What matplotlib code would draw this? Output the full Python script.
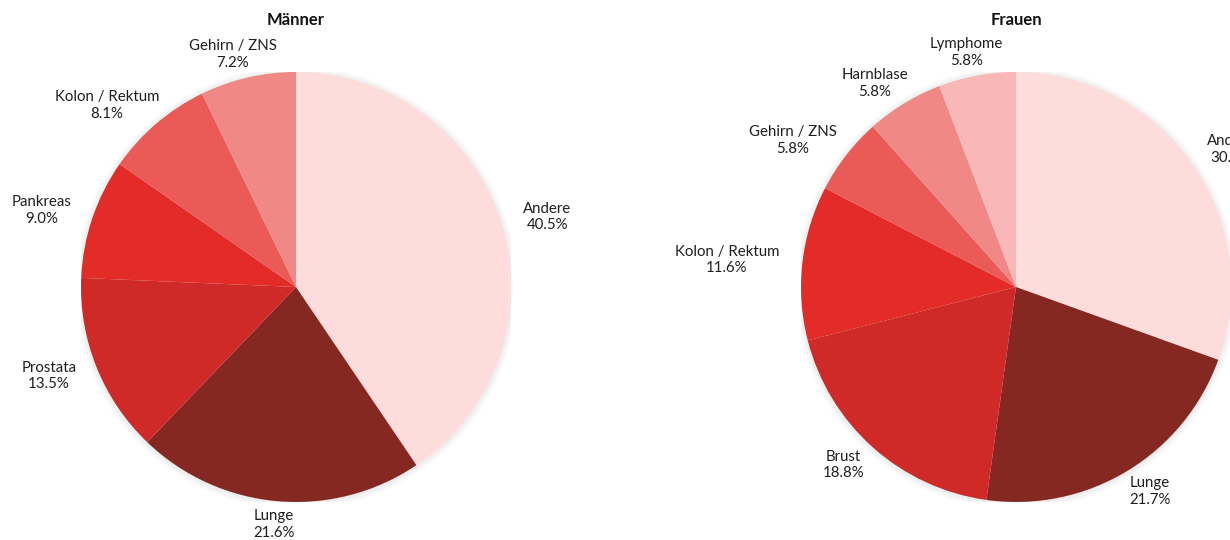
import numpy as np
import matplotlib
matplotlib.use("Agg")
import matplotlib.pyplot as plt
from matplotlib.patches import Circle

plt.rcParams['font.family'] = ['Lato', 'DejaVu Sans']

# Krebstodesursachen nach Geschlecht (Anteile in %)
men_labels = ["Andere", "Lunge", "Prostata", "Pankreas", "Kolon / Rektum", "Gehirn / ZNS"]
men_values = [40.5, 21.6, 13.5, 9.0, 8.1, 7.2]
men_colors = ["#fddcdc", "#862822", "#cf2a27", "#e32b28", "#ea5a56", "#f08886"]

women_labels = ["Andere", "Lunge", "Brust", "Kolon / Rektum", "Gehirn / ZNS", "Harnblase", "Lymphome"]
women_values = [30.5, 21.7, 18.8, 11.6, 5.8, 5.8, 5.8]
women_colors = ["#fddcdc", "#862822", "#cf2a27", "#e32b28", "#ea5a56", "#f08886", "#f9b7b7"]

W, H = 1230, 540
fig = plt.figure(figsize=(W / 100, H / 100), dpi=100)
fig.patch.set_facecolor("white")

R_PX = 215


def draw_pie(cx, cy, labels, values, colors, title):
    ax = fig.add_axes([(cx - R_PX) / W, (H - cy - R_PX) / H, 2 * R_PX / W, 2 * R_PX / H])

    # faint shadow around the disc
    for i in range(6):
        ax.add_patch(Circle((0.0, -0.004), 1.0 + 0.005 * (i + 1), color="#999999",
                            alpha=0.022, lw=0, zorder=0))

    texts = [f"{n}\n{v:.1f}%" for n, v in zip(labels, values)]
    wedges, lbls = ax.pie(values, colors=colors, startangle=90, counterclock=False,
                          radius=1.0, labels=texts, labeldistance=1.11,
                          wedgeprops=dict(linewidth=0, zorder=2),
                          textprops=dict(fontsize=10.8, color="#1e1e1e",
                                         multialignment="center", linespacing=1.25))
    ax.set_xlim(-1, 1)
    ax.set_ylim(-1, 1)
    ax.set_aspect("equal")
    ax.axis("off")

    # centre each label, then slide it outward by half its width along the radial direction
    renderer = fig.canvas.get_renderer()
    for w, t in zip(wedges, lbls):
        t.set_ha("center")
        t.set_va("center")
        t.set_clip_on(False)
        ang = np.deg2rad((w.theta1 + w.theta2) / 2)
        width_px = t.get_window_extent(renderer).width
        x, y = t.get_position()
        t.set_position((x + np.cos(ang) * width_px / 2 / R_PX, y))

    fig.text(cx / W, 1 - 20 / H, title, ha="center", va="center",
             fontsize=12, fontweight="bold", color="#111111")


draw_pie(296, 287, men_labels, men_values, men_colors, "Männer")
draw_pie(1016, 287, women_labels, women_values, women_colors, "Frauen")

fig.savefig("out.png", dpi=100, facecolor="white")
